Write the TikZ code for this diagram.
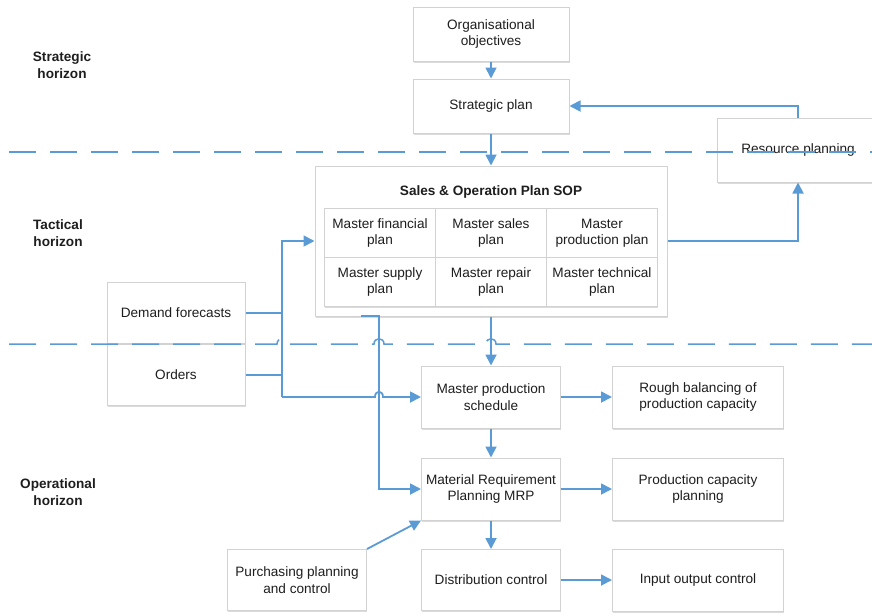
\documentclass[tikz,border=0pt]{standalone}
\usepackage{fontspec}
\setmainfont{Liberation Sans}
\usetikzlibrary{arrows.meta,shadows}
\definecolor{linkblue}{RGB}{91,155,213}
\definecolor{boxline}{RGB}{210,210,210}
\definecolor{txt}{RGB}{30,30,30}
\begin{document}
\begin{tikzpicture}[x=1pt,y=-1pt,
  every node/.style={text=txt,font=\fontsize{13.6}{16.5}\selectfont},
  box/.style={draw=boxline, line width=1pt, fill=white, align=center,
    inner sep=0pt, drop shadow={shadow xshift=0.8pt, shadow yshift=-1.5pt, opacity=0.14, fill=black}},
  cell/.style={box, minimum width=111pt, minimum height=49pt},
  flow/.style={draw=linkblue, line width=1.8pt},
  arr/.style={flow, -{Triangle[length=11pt,width=11pt]}},
  horizon/.style={draw=linkblue, line width=1.5pt, dash pattern=on 27pt off 14pt},
  zone/.style={font=\bfseries\fontsize{13.6}{16.5}\selectfont, align=center}
]
\useasboundingbox (0,0) rectangle (872,614);

% horizon labels
\node[zone] (lstrat) at (62,65) {Strategic\\horizon};
\node[zone] (ltact) at (58,233) {Tactical\\horizon};
\node[zone] (loper) at (58,492) {Operational\\horizon};

% strategic level
\node[box, minimum width=156pt, minimum height=54pt] (obj) at (491,34) {Organisational\\objectives};
\node[box, minimum width=156pt, minimum height=54pt] (strat) at (491,106) {Strategic plan};
\node[box, minimum width=162pt, minimum height=64pt] (res) at (798,150) {Resource planning};

% sales & operation plan with its six master plans
\node[box, minimum width=352pt, minimum height=150pt] (sop) at (491,241) {};
\node[font=\bfseries\fontsize{13.6}{16.5}\selectfont] (soptitle) at (491,192) {Sales \& Operation Plan SOP};
\node[cell] (mfin) at (380,233) {Master financial\\plan};
\node[cell] (msal) at (491,233) {Master sales\\plan};
\node[cell] (mprod) at (602,233) {Master\\production plan};
\node[cell] (msup) at (380,282) {Master supply\\plan};
\node[cell] (mrep) at (491,282) {Master repair\\plan};
\node[cell] (mtec) at (602,282) {Master technical\\plan};

% inputs
\node[box, minimum width=138pt, minimum height=61pt] (df) at (176,313) {Demand forecasts};
\node[box, minimum width=138pt, minimum height=61pt] (ord) at (176,375) {Orders};
\node[box, minimum width=139pt, minimum height=61pt] (purch) at (297,580) {Purchasing planning\\and control};

% operational chain
\node[box, minimum width=139pt, minimum height=62pt] (mps) at (491,397) {Master production\\schedule};
\node[box, minimum width=139pt, minimum height=62pt] (mrp) at (491,489) {Material Requirement\\Planning MRP};
\node[box, minimum width=139pt, minimum height=61pt] (dist) at (491,580) {Distribution control};
\node[box, minimum width=171pt, minimum height=62pt] (rough) at (698,397) {Rough balancing of\\production capacity};
\node[box, minimum width=171pt, minimum height=62pt] (pcap) at (698,489) {Production capacity\\planning};
\node[box, minimum width=171pt, minimum height=62pt] (ioc) at (698,580) {Input output control};

% junction points
\coordinate (j1) at (282,241);
\coordinate (j2) at (282,397);
\coordinate (s1) at (361,316);
\coordinate (s2) at (379,316);
\coordinate (s3) at (379,489);

% connectors
\draw[arr] (obj) -- (strat);
\draw[arr] (strat) -- (sop);
\draw[arr] (res.north) |- (strat.east);
\draw[arr] (sop.east) -| (res.south);
\draw[flow] (df.east) -- (df.east -| j1);
\draw[flow] (ord.east) -- (ord.east -| j1);
\draw[arr] (j2) -- (j1) -- (sop.west);
\draw[arr] (j2) -- (375,397) .. controls (375,390) and (383,390) .. (383,397) -- (mps.west);
\draw[arr] (s1) -- (s2) -- (s3) -- (mrp.west);
\draw[arr] (sop.south) -- (mps.north);
\draw[arr] (mps) -- (mrp);
\draw[arr] (mrp) -- (dist);
\draw[arr] (mps) -- (rough);
\draw[arr] (mrp) -- (pcap);
\draw[arr] (dist) -- (ioc);
\draw[arr] (purch.north east) -- (mrp.south west);

% horizon boundaries
\draw[horizon] (9,152) -- (872,152);
\draw[horizon] (9,344) -- (277,344) .. controls (277,337) and (287,337) .. (287,344)
  -- (374,344) .. controls (374,337) and (384,337) .. (384,344)
  -- (486,344) .. controls (486,337) and (496,337) .. (496,344) -- (872,344);
\end{tikzpicture}
\end{document}
